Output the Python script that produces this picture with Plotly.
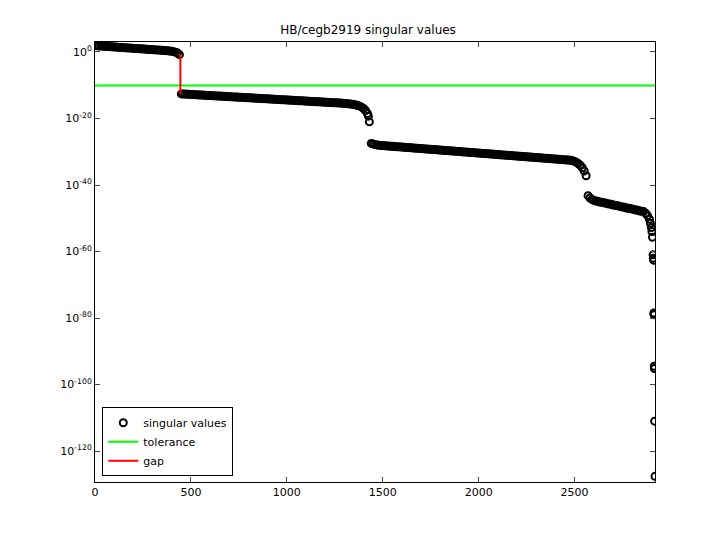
import plotly.graph_objects as go

# segment 1: indices 0..440 step 10
idx1 = list(range(0, 441, 10))
exp1 = [1.9,1.86,1.82,1.78,1.74,1.70,1.66,1.62,1.58,1.54,1.50,1.46,1.42,1.38,1.34,1.30,1.26,1.22,1.18,1.14,
        1.10,1.06,1.02,0.98,0.94,0.90,0.86,0.82,0.78,0.74,0.70,0.66,0.62,0.58,0.54,0.50,0.45,0.40,0.34,0.28,
        0.20,0.10,-0.05,-0.3,-0.8]
# segment 2: indices 450..1420 step 10, plus 1425, 1430
idx2 = list(range(450, 1421, 10)) + [1425, 1430]
exp2 = [-12.60,-12.63,-12.67,-12.70,-12.73,-12.77,-12.80,-12.83,-12.87,-12.90,
        -12.93,-12.97,-13.00,-13.03,-13.07,-13.10,-13.13,-13.17,-13.20,-13.23,
        -13.27,-13.30,-13.33,-13.37,-13.40,-13.43,-13.47,-13.50,-13.53,-13.57,
        -13.60,-13.63,-13.67,-13.70,-13.73,-13.77,-13.80,-13.83,-13.87,-13.90,
        -13.93,-13.97,-14.00,-14.03,-14.07,-14.10,-14.13,-14.17,-14.20,-14.23,
        -14.27,-14.30,-14.33,-14.37,-14.40,-14.43,-14.47,-14.50,-14.53,-14.57,
        -14.60,-14.63,-14.67,-14.70,-14.73,-14.77,-14.80,-14.83,-14.87,-14.90,
        -14.93,-14.97,-15.00,-15.03,-15.07,-15.10,-15.13,-15.17,-15.20,-15.23,
        -15.27,-15.30,-15.33,-15.37,-15.42,-15.47,-15.52,-15.58,-15.64,-15.70,
        -15.8,-15.95,-16.1,-16.3,-16.6,-17.0,-17.6,-18.5,-19.3,-21.0]
# segment 3: indices 1440..2560 step 10
idx3 = list(range(1440, 2561, 10))
exp3 = [-27.5,-27.7,-27.85,-27.95,-28.05,
        -28.10,-28.15,-28.19,-28.24,-28.28,-28.33,-28.37,-28.42,-28.46,-28.51,
        -28.55,-28.60,-28.64,-28.69,-28.73,-28.78,-28.82,-28.87,-28.91,-28.96,
        -29.00,-29.05,-29.09,-29.14,-29.18,-29.23,-29.27,-29.32,-29.36,-29.41,
        -29.45,-29.50,-29.54,-29.59,-29.63,-29.68,-29.72,-29.77,-29.81,-29.86,
        -29.90,-29.95,-29.99,-30.04,-30.08,-30.13,-30.17,-30.22,-30.26,-30.31,
        -30.35,-30.40,-30.44,-30.49,-30.53,-30.58,-30.62,-30.67,-30.71,-30.76,
        -30.80,-30.85,-30.89,-30.94,-30.98,-31.03,-31.07,-31.12,-31.16,-31.21,
        -31.25,-31.30,-31.34,-31.39,-31.43,-31.48,-31.52,-31.57,-31.61,-31.66,
        -31.70,-31.75,-31.79,-31.84,-31.88,-31.93,-31.97,-32.02,-32.06,-32.11,
        -32.15,-32.20,-32.24,-32.29,-32.33,-32.38,-32.42,-32.47,-32.51,-32.56,
        -32.7,-32.9,-33.2,-33.6,-34.1,-34.8,-35.8,-37.2]
# segment 4: indices 2570..2919
idx4 = [2570,2580,2590,2600] + list(range(2610, 2861, 10)) + [2870,2880,2890,2895,2900,2903,2906,
        2909,2910,2912,2913,2914,2915,2916,2917,2919]
exp4 = [-43.2,-43.9,-44.3,-44.6,
        -44.8,-44.9,-45.1,-45.2,-45.3,-45.4,-45.6,-45.7,-45.8,-46.0,-46.1,-46.2,-46.3,
        -46.5,-46.6,-46.7,-46.9,-47.0,-47.1,-47.2,-47.4,-47.5,-47.6,-47.8,-47.9,-48.0,
        -48.5,-49.2,-50.3,-51.5,-52.8,-54.0,-55.7,
        -61.0,-62.0,-62.6,-78.5,-79.0,-94.5,-95.2,-111.0,-127.6]

idx = idx1 + idx2 + idx3 + idx4
expo = exp1 + exp2 + exp3 + exp4

tol_exp = -10.1
gap_x = [445, 445]
gap_exp = [-0.8, -12.6]

tick_exp = [0, -20, -40, -60, -80, -100, -120]

fig = go.Figure()
fig.add_trace(go.Scatter(x=idx, y=[10**e for e in expo], mode="markers", name="singular values",
                         marker=dict(symbol="circle-open", color="black", size=7, line=dict(width=2))))
fig.add_trace(go.Scatter(x=[0, 2919], y=[10**tol_exp]*2, mode="lines", name="tolerance",
                         line=dict(color="#00ff00", width=2)))
fig.add_trace(go.Scatter(x=gap_x, y=[10**e for e in gap_exp], mode="lines", name="gap",
                         line=dict(color="red", width=2)))

fig.update_layout(
    width=720, height=540, paper_bgcolor="white", plot_bgcolor="white",
    margin=dict(l=87, r=73, t=34, b=66),
    title=dict(text="HB/cegb2919 singular values", x=0.5, xanchor="center", y=0.968, font=dict(size=12, color="black")),
    font=dict(family="DejaVu Sans", size=11, color="black"),
    legend=dict(x=0.013, y=0.013, xanchor="left", yanchor="bottom", bordercolor="black", borderwidth=1,
                bgcolor="white", font=dict(size=11), tracegroupgap=0, itemwidth=30),
)
fig.update_xaxes(range=[0, 2919], tickvals=[0, 500, 1000, 1500, 2000, 2500], showgrid=False, zeroline=False,
                 showline=True, linecolor="black", mirror="ticks", ticks="inside", ticklen=5, automargin=False)
fig.update_yaxes(type="log", range=[-129.3, 3], tickvals=[10**e for e in tick_exp],
                 ticktext=["10<sup>%d</sup>" % e for e in tick_exp], showgrid=False, zeroline=False,
                 showline=True, linecolor="black", mirror="ticks", ticks="inside", ticklen=5, automargin=False)
fig.write_html("out.html")
